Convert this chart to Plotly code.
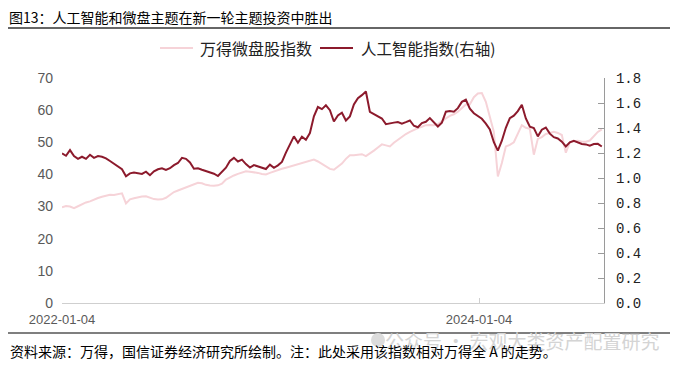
import pandas as pd
import plotly.graph_objects as go

# ---- data (weekly readings from the reference) ----
start_date = "2022-01-04"
n_weeks = 136
dates = pd.date_range(start_date, periods=n_weeks, freq="7D")

microcap = [29.77, 30.16, 30.00, 29.52, 30.10, 30.81, 31.29, 31.61, 32.19, 32.65,
            33.06, 33.45, 33.65, 33.58, 33.87, 34.10, 30.97, 32.26, 32.58, 32.90,
            33.13, 33.23, 32.74, 32.32, 32.19, 32.26, 32.74, 33.71, 34.52, 35.00,
            35.48, 35.87, 36.29, 36.77, 37.42, 37.26, 36.77, 36.55, 36.45, 36.61,
            37.10, 38.39, 39.10, 39.68, 40.16, 40.48, 40.97, 40.81, 40.71, 40.48,
            40.16, 40.00, 40.48, 40.97, 41.45, 41.77, 42.10, 42.48, 42.74, 43.13,
            43.55, 44.03, 44.35, 44.61, 44.03, 43.23, 42.26, 41.71, 41.45, 42.42,
            43.39, 44.84, 45.97, 45.97, 46.13, 46.29, 45.71, 46.45, 47.42, 48.39,
            49.35, 49.03, 48.71, 49.84, 50.81, 51.77, 52.58, 53.23, 53.87, 54.42,
            54.84, 55.32, 55.39, 55.32, 55.65, 56.61, 57.42, 58.23, 58.71, 59.52,
            60.65, 61.77, 61.84, 64.03, 65.16, 65.32, 62.58, 58.06, 53.23, 39.35,
            43.55, 48.71, 49.19, 50.00, 52.90, 55.32, 54.52, 54.19, 46.13, 51.06,
            51.61, 52.58, 52.90, 53.23, 52.90, 52.26, 46.77, 50.00, 50.32, 50.48,
            50.16, 50.16, 50.55, 51.77, 53.23, 54.03]

ai_index = [1.197, 1.178, 1.223, 1.175, 1.153, 1.170, 1.153, 1.186, 1.161, 1.175,
            1.170, 1.157, 1.136, 1.116, 1.092, 1.070, 1.014, 1.037, 1.043, 1.037,
            1.033, 1.051, 1.023, 1.053, 1.070, 1.078, 1.064, 1.078, 1.103, 1.120,
            1.161, 1.153, 1.124, 1.074, 1.078, 1.066, 1.056, 1.045, 1.034, 1.016,
            1.045, 1.082, 1.136, 1.161, 1.132, 1.147, 1.111, 1.084, 1.103, 1.091,
            1.080, 1.072, 1.107, 1.082, 1.101, 1.128, 1.203, 1.272, 1.333, 1.282,
            1.331, 1.306, 1.360, 1.493, 1.568, 1.551, 1.582, 1.543, 1.452, 1.501,
            1.522, 1.460, 1.493, 1.588, 1.638, 1.663, 1.692, 1.529, 1.511, 1.493,
            1.476, 1.431, 1.439, 1.443, 1.447, 1.435, 1.447, 1.460, 1.418, 1.406,
            1.439, 1.450, 1.479, 1.447, 1.412, 1.443, 1.530, 1.535, 1.530, 1.559,
            1.609, 1.626, 1.555, 1.518, 1.499, 1.474, 1.435, 1.389, 1.286, 1.219,
            1.298, 1.402, 1.479, 1.499, 1.535, 1.586, 1.476, 1.410, 1.399, 1.333,
            1.387, 1.404, 1.355, 1.327, 1.316, 1.291, 1.252, 1.286, 1.297, 1.283,
            1.272, 1.269, 1.258, 1.272, 1.273, 1.252]

x_tick_vals = ["2022-01-04", "2024-01-04"]
left_ticks = [0, 10, 20, 30, 40, 50, 60, 70]
right_ticks = [0.0, 0.2, 0.4, 0.6, 0.8, 1.0, 1.2, 1.4, 1.6, 1.8]

title_text = "图13：人工智能和微盘主题在新一轮主题投资中胜出"
source_text = "资料来源：万得，国信证券经济研究所绘制。注：此处采用该指数相对万得全 A 的走势。"
watermark_text = "公众号 · 宏观大类资产配置研究"
name_micro = "万得微盘股指数"
name_ai = "人工智能指数(右轴)"

# ---- styling ----
PINK = "#f6d3d8"
RED = "#8c1a2c"
CJK = "Noto Sans CJK SC"

# page body adds an 8px margin; figure is sized/offset to compensate
OFF = 8
W, H = 679 - OFF, 366 - OFF
ML, MR, MT, MB = 62 - OFF, 679 - 604, 78 - OFF, 366 - 295 - OFF
PW, PH = W - ML - MR, H - MT - MB


def px(xr):
    """reference-page x pixel -> paper x"""
    return (xr - OFF - ML) / PW


def py(yr):
    """reference-page y pixel -> paper y"""
    return (H - MB - (yr - OFF)) / PH


fig = go.Figure()
fig.add_trace(go.Scatter(x=dates, y=microcap, name=name_micro, mode="lines",
                         line=dict(color=PINK, width=2), yaxis="y",
                         showlegend=False))
fig.add_trace(go.Scatter(x=dates, y=ai_index, name=name_ai, mode="lines",
                         line=dict(color=RED, width=2), yaxis="y2",
                         showlegend=False))

fig.update_layout(
    width=W, height=H,
    margin=dict(l=ML, r=MR, t=MT, b=MB),
    paper_bgcolor="white", plot_bgcolor="white",
    font=dict(family=CJK, color="#222"),
    showlegend=False,
    xaxis=dict(type="date", range=["2022-01-04", "2024-08-09 20:00"],
               tickvals=x_tick_vals, ticktext=x_tick_vals,
               showline=True, linecolor="#cfcfcf", linewidth=1,
               ticks="inside", ticklen=5, tickcolor="#cfcfcf",
               showgrid=False, zeroline=False,
               tickfont=dict(family="Liberation Sans", size=13, color="#595959"),
               ticklabelstandoff=4),
    yaxis=dict(range=[0, 70], tickvals=left_ticks, showgrid=False, zeroline=False,
               showline=False, ticks="",
               tickfont=dict(family="Liberation Sans", size=14, color="#595959"),
               ticklabelstandoff=8),
    yaxis2=dict(range=[0, 1.8], tickvals=right_ticks,
                ticktext=[f"{v:.1f}" for v in right_ticks],
                overlaying="y", side="right", showgrid=False, zeroline=False,
                showline=True, linecolor="#9a9a9a", linewidth=1.3,
                ticks="inside", ticklen=6, tickcolor="#9a9a9a",
                tickfont=dict(family="Liberation Mono", size=14, color="#222"),
                ticklabelstandoff=8),
)

# legend (drawn manually for exact placement)
legend_items = [(name_micro, PINK, 160, 193, 200, 16),
                (name_ai, RED, 320, 353, 361, 15.5)]
for label, color, lx0, lx1, tx, fs in legend_items:
    fig.add_shape(type="line", xref="paper", yref="paper",
                  x0=px(lx0), x1=px(lx1), y0=py(48), y1=py(48),
                  line=dict(color=color, width=2))
    fig.add_annotation(text=label, xref="paper", yref="paper",
                       x=px(tx), y=py(48), xanchor="left", yanchor="middle",
                       showarrow=False, xshift=-2,
                       font=dict(family=CJK, size=fs, color="#222"))

# title & rules
fig.add_annotation(text=title_text, xref="paper", yref="paper",
                   x=px(OFF), y=py(17.5), borderpad=0,
                   xanchor="left", yanchor="middle", showarrow=False,
                   font=dict(family=CJK, size=14, color="#000"))
fig.add_shape(type="line", xref="paper", yref="paper",
              x0=px(OFF), x1=px(670), y0=py(28), y1=py(28),
              line=dict(color="#333", width=1.5))
fig.add_shape(type="line", xref="paper", yref="paper",
              x0=px(OFF), x1=px(670), y0=py(333), y1=py(333),
              line=dict(color="#555", width=1.5))
# watermark
fig.add_shape(type="circle", xref="paper", yref="paper",
              x0=px(371), x1=px(385), y0=py(333), y1=py(347),
              fillcolor="#dcdcdc", line=dict(width=0))
fig.add_annotation(text=watermark_text, xref="paper", yref="paper",
                   x=px(662), y=py(340),
                   xanchor="right", yanchor="middle", showarrow=False,
                   font=dict(family=CJK, size=19, color="#d4d4d4"))
fig.add_annotation(text=source_text, xref="paper", yref="paper",
                   x=px(OFF), y=py(351),
                   xanchor="left", yanchor="middle", showarrow=False,
                   font=dict(family=CJK, size=14, color="#000"))

fig.write_html("out.html")
